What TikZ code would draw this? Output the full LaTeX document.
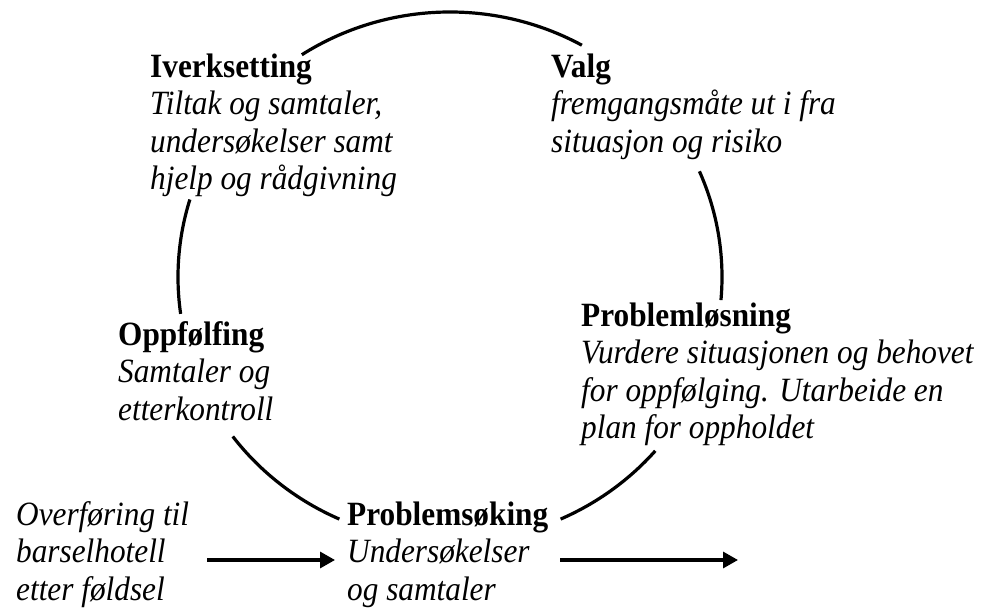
\documentclass[tikz,border=0pt]{standalone}
\usepackage{fontspec}
\setmainfont{Liberation Serif}[FakeStretch=0.92]
\usetikzlibrary{arrows.meta}
\tikzset{
  block/.style={anchor=north west, inner sep=0pt, align=left,
    font=\fontsize{34}{37.5}\selectfont},
  cyc/.style={line width=3.2pt},
  flow/.style={line width=3.2pt, -{Triangle[length=15pt,width=16pt]}}
}
\newcommand{\ttl}[1]{\rule{0pt}{25pt}\textbf{#1}}
\newcommand{\bdy}[1]{\textit{#1}}
\begin{document}
\begin{tikzpicture}[x=1pt,y=1pt]
\useasboundingbox (0,0) rectangle (994,609);
\coordinate (c) at (450,332);
% text blocks (top = first baseline + 25)
\node[block] (iverk) at (150,557) {\ttl{Iverksetting}\\\bdy{Tiltak og samtaler,}\\\bdy{undersøkelser samt}\\\bdy{hjelp og rådgivning}};
\node[block] (valg) at (551,557) {\ttl{Valg}\\\bdy{fremgangsmåte ut i fra}\\\bdy{situasjon og risiko}};
\node[block] (oppf) at (118,289) {\ttl{Oppfølfing}\\\bdy{Samtaler og}\\\bdy{etterkontroll}};
\node[block] (plos) at (581,308) {\ttl{Problemløsning}\\\bdy{Vurdere situasjonen og behovet}\\\bdy{for oppfølging. Utarbeide en}\\\bdy{plan for oppholdet}};
\node[block] (psok) at (347,109) {\ttl{Problemsøking}\\\bdy{Undersøkelser}\\\bdy{og samtaler}};
\node[block] (overf) at (16,109) {\rule{0pt}{25pt}\bdy{Overføring til}\\\bdy{barselhotell}\\\bdy{etter føldsel}};
% cycle arcs (ellipse rx=272, ry=265)
\draw[cyc] ([shift={(61:272 and 265)}]c) arc[start angle=61, end angle=123, x radius=272, y radius=265];
\draw[cyc] ([shift={(-5:272 and 265)}]c) arc[start angle=-5, end angle=23.5, x radius=272, y radius=265];
\draw[cyc] ([shift={(163:272 and 265)}]c) arc[start angle=163, end angle=188, x radius=272, y radius=265];
\draw[cyc] ([shift={(217:272 and 265)}]c) arc[start angle=217, end angle=246, x radius=272, y radius=265];
\draw[cyc] ([shift={(294:272 and 265)}]c) arc[start angle=294, end angle=319, x radius=272, y radius=265];
% flow arrows
\coordinate (a1s) at (207,49);
\coordinate (a1e) at (335,49);
\coordinate (a2s) at (560,49);
\coordinate (a2e) at (738,49);
\draw[flow] (a1s) -- (a1e);
\draw[flow] (a2s) -- (a2e);
\end{tikzpicture}
\end{document}
